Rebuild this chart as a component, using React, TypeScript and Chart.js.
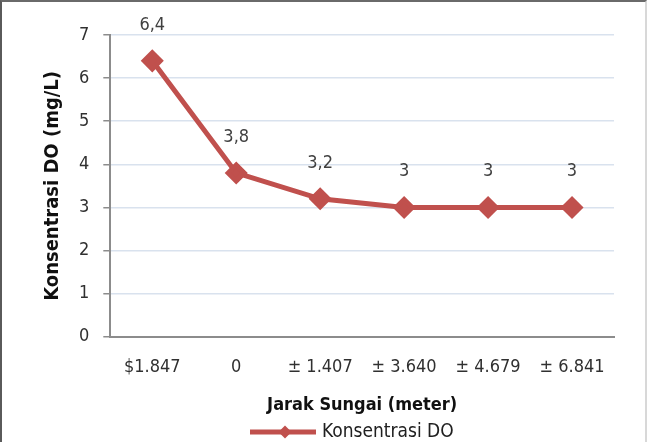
import React, { useEffect, useRef } from "react";
import { Chart, registerables } from "chart.js";

Chart.register(...registerables);

const categories = ["$1.847", "0", "± 1.407", "± 3.640", "± 4.679", "± 6.841"];
const doValues = [6.4, 3.8, 3.2, 3, 3, 3];
const seriesName = "Konsentrasi DO";
const xTitle = "Jarak Sungai (meter)";
const yTitle = "Konsentrasi DO (mg/L)";

const FONT = "'DejaVu Sans Condensed', 'DejaVu Sans', sans-serif";
const RED = "#C0504D";

export default function App() {
  const ref = useRef<HTMLCanvasElement | null>(null);
  useEffect(() => {
    document.body.style.margin = "0";
    const labelPlugin = {
      id: "valueLabels",
      afterDatasetsDraw(chart: any) {
        const ctx = chart.ctx;
        const meta = chart.getDatasetMeta(0);
        ctx.save();
        ctx.font = `18px ${FONT}`;
        ctx.fillStyle = "#404040";
        ctx.textAlign = "center";
        ctx.textBaseline = "middle";
        meta.data.forEach((pt: any, i: number) => {
          const v = doValues[i];
          ctx.fillText(String(v).replace(".", ","), pt.x, pt.y - 36);
        });
        ctx.restore();
      },
    };
    const legendPlugin = {
      id: "customLegend",
      afterDraw(chart: any) {
        const ctx = chart.ctx;
        const y = chart.height - 10;
        const x0 = 248;
        ctx.save();
        ctx.strokeStyle = RED;
        ctx.lineWidth = 5;
        ctx.beginPath();
        ctx.moveTo(x0, y);
        ctx.lineTo(x0 + 66, y);
        ctx.stroke();
        ctx.fillStyle = RED;
        ctx.beginPath();
        const cx = x0 + 35, r = 6.5;
        ctx.moveTo(cx, y - r);
        ctx.lineTo(cx + r, y);
        ctx.lineTo(cx, y + r);
        ctx.lineTo(cx - r, y);
        ctx.closePath();
        ctx.fill();
        ctx.font = `19px ${FONT}`;
        ctx.fillStyle = "#202020";
        ctx.textAlign = "left";
        ctx.textBaseline = "middle";
        ctx.fillText(seriesName, x0 + 72, y);
        ctx.restore();
      },
    };
    const chart = new Chart(ref.current!, {
      type: "line",
      data: {
        labels: categories,
        datasets: [
          {
            label: seriesName,
            data: doValues,
            borderColor: RED,
            backgroundColor: RED,
            borderWidth: 5,
            pointStyle: "rectRot",
            pointRadius: 8,
            pointHoverRadius: 8,
            tension: 0,
          },
        ],
      },
      options: {
        animation: false,
        responsive: false,
        maintainAspectRatio: false,
        layout: { padding: { top: 33, right: 31, bottom: 26, left: 39 } },
        plugins: { legend: { display: false }, tooltip: { enabled: false } },
        scales: {
          x: {
            offset: true,
            grid: { display: false, drawTicks: false },
            border: { display: true, color: "#8C8C8C", width: 2 },
            ticks: { color: "#303030", font: { family: FONT, size: 18 }, padding: 20, maxRotation: 0, autoSkip: false },
            title: {
              display: true,
              text: xTitle,
              color: "#101010",
              font: { family: FONT, size: 18, weight: "bold" },
              padding: { top: -4, bottom: 0 },
            },
          },
          y: {
            min: 0,
            max: 7,
            ticks: { stepSize: 1, color: "#303030", font: { family: FONT, size: 18 }, padding: 14 },
            grid: { color: "#D9E2EE", lineWidth: 1.5, tickLength: 7, tickColor: "#8C8C8C" },
            border: { display: true, color: "#8C8C8C", width: 2 },
            title: {
              display: true,
              text: yTitle,
              color: "#101010",
              font: { family: FONT, size: 20, weight: "bold" },
              padding: { top: 0, bottom: 0 },
            },
          },
        },
      },
      plugins: [labelPlugin, legendPlugin],
    });
    return () => chart.destroy();
  }, []);
  return (
    <div
      style={{
        position: "absolute",
        left: 0,
        top: 0,
        width: 647,
        height: 442,
        boxSizing: "border-box",
        borderTop: "2px solid #6a6a6a",
        borderLeft: "2px solid #5a5a5a",
        borderRight: "2px solid #d8d8d8",
        background: "#fff",
      }}
    >
      <canvas ref={ref} width={643} height={440} style={{ display: "block" }} />
    </div>
  );
}
